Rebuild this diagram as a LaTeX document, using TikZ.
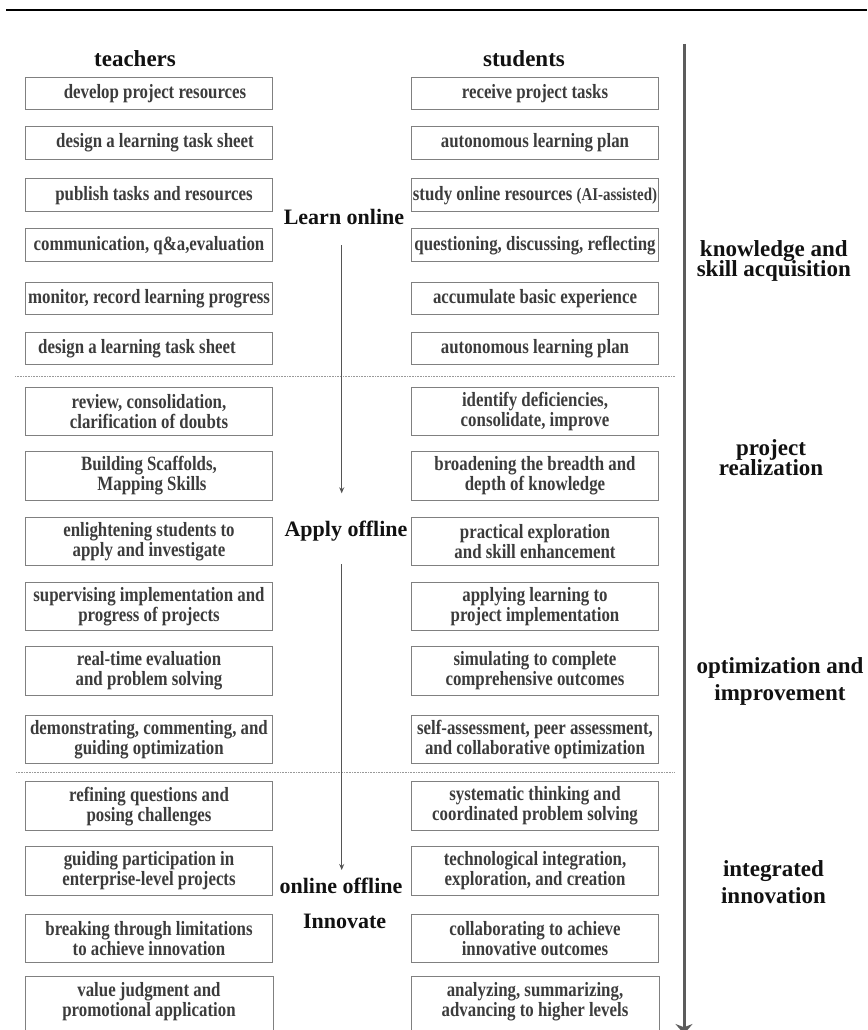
\documentclass[tikz,border=0pt]{standalone}
\usepackage{fontspec}
\setmainfont{Liberation Serif}
\newfontfamily\boxfam{Liberation Serif}[FakeStretch=0.83]
\usetikzlibrary{arrows.meta}
\definecolor{boxline}{HTML}{808080}
\definecolor{boxtext}{HTML}{3C3C3C}
\definecolor{headtext}{HTML}{111111}
\definecolor{axiscol}{HTML}{5C5C5C}
\definecolor{midcol}{HTML}{555555}
\definecolor{sepcol}{HTML}{999999}
\tikzset{
  tbox/.style={draw=boxline, line width=1pt, minimum width=247pt, inner sep=0pt,
    align=center, text=boxtext, font=\boxfam\bfseries\fontsize{20.3}{20}\selectfont},
  one/.style={tbox, minimum height=32.5pt},
  two/.style={tbox, minimum height=48.4pt},
  boxframe/.style={draw=boxline, line width=1pt},
  head/.style={font=\bfseries\fontsize{23}{23}\selectfont, text=headtext, inner sep=0pt, anchor=base},
  mid/.style={font=\bfseries\fontsize{22}{22}\selectfont, text=headtext, inner sep=0pt, anchor=base},
  sidea/.style={font=\bfseries\fontsize{23}{20.3}\selectfont, text=headtext, inner sep=0pt, align=center, anchor=base},
  sideb/.style={font=\bfseries\fontsize{23}{27}\selectfont, text=headtext, inner sep=0pt, align=center, anchor=base},
  midarrow/.style={draw=midcol, line width=0.9pt, -{Stealth[length=6pt,width=5pt]}},
  axis/.style={draw=axiscol, line width=3pt, -{Stealth[length=10pt,width=17pt]}},
  sepline/.style={draw=sepcol, line width=0.8pt, dash pattern=on 0.8pt off 0.8pt},
  topline/.style={draw=black, line width=2.5pt}
}
\begin{document}
\lineskiplimit=-100pt
\begin{tikzpicture}[x=1pt,y=-1pt]
\useasboundingbox (0,0) rectangle (867,1030);
% top rule
\coordinate (tl1) at (6,10);
\coordinate (tl2) at (867,10);
\draw[topline] (tl1) -- (tl2);
% headers
\node[head] (hT) at (135,66.7) {teachers};
\node[head] (hS) at (524,66.7) {students};
% teacher column
\node[one] (t1) at (149,93.65) {\hspace*{12pt}develop project resources};
\node[one] (t2) at (149,143.15) {\hspace*{12pt}design a learning task sheet};
\node[one] (t3) at (149,195.15) {\hspace*{10pt}publish tasks and resources};
\node[one] (t4) at (149,245.15) {communication, q\&a,evaluation};
\node[one] (t5) at (149,298.4) {monitor, record learning progress};
\node[one] (t6) at (149,348.5) {design a learning task sheet\hspace*{24pt}};
\node[two] (t7) at (149,411.5) {review, consolidation,\\clarification of doubts};
\node[two] (t8) at (149,475.85) {Building Scaffolds,\\\hspace*{6pt}Mapping Skills};
\node[two] (t9) at (149,541.5) {enlightening students to\\apply and investigate};
\node[two] (t10) at (149,606.5) {supervising implementation and\\progress of projects};
\node[two] (t11) at (149,670.85) {real-time evaluation\\and problem solving};
\node[two] (t12) at (149,739.5) {demonstrating, commenting, and\\guiding optimization};
\node[two] (t13) at (149,806.15) {refining questions and\\posing challenges};
\node[two] (t14) at (149,870.85) {guiding participation in\\enterprise-level projects};
\node[two] (t15) at (149,938.3) {breaking through limitations\\to achieve innovation};
\node[two, draw=none] (t16) at (149,1001.5) {value judgment and\\promotional application};
\draw[boxframe] ([yshift=-10pt]t16.south west) rectangle (t16.north east);
% student column
\node[one] (s1) at (535,93.65) {receive project tasks};
\node[one] (s2) at (535,143.15) {autonomous learning plan};
\node[one] (s3) at (535,195.15) {study online resources {\fontsize{18}{18}\selectfont(AI-assisted)}};
\node[one] (s4) at (535,245.15) {questioning, discussing, reflecting};
\node[one] (s5) at (535,298.4) {accumulate basic experience};
\node[one] (s6) at (535,348.5) {autonomous learning plan};
\node[two] (s7) at (535,411.5) {identify deficiencies,\\consolidate, improve};
\node[two] (s8) at (535,475.85) {broadening the breadth and\\depth of knowledge};
\node[two] (s9) at (535,541.5) {practical exploration\\and skill enhancement};
\node[two] (s10) at (535,606.5) {applying learning to\\project implementation};
\node[two] (s11) at (535,670.85) {simulating to complete\\comprehensive outcomes};
\node[two] (s12) at (535,739.5) {self-assessment, peer assessment,\\and collaborative optimization};
\node[two] (s13) at (535,806.15) {systematic thinking and\\coordinated problem solving};
\node[two] (s14) at (535,870.85) {technological integration,\\exploration, and creation};
\node[two] (s15) at (535,938.3) {collaborating to achieve\\innovative outcomes};
\node[two, draw=none] (s16) at (535,1001.5) {analyzing, summarizing,\\advancing to higher levels};
\draw[boxframe] ([yshift=-10pt]s16.south west) rectangle (s16.north east);
% dotted separators
\coordinate (d1a) at (15,376);
\coordinate (d1b) at (675,376);
\coordinate (d2a) at (16,772.3);
\coordinate (d2b) at (675,772.3);
\draw[sepline] (d1a) -- (d1b);
\draw[sepline] (d2a) -- (d2b);
% middle labels
\node[mid] (mLearn) at (344,224) {Learn online};
\node[mid] (mApply) at (346,536) {Apply offline};
\node[mid] (mOnOff) at (341,893.3) {online offline};
\node[mid] (mInnov) at (344.7,928.7) {Innovate};
% middle arrows
\coordinate (a1s) at (341.7,245);
\coordinate (a1e) at (341.7,493.3);
\coordinate (a2s) at (341.7,564.3);
\coordinate (a2e) at (341.7,870);
\draw[midarrow] (a1s) -- (a1e);
\draw[midarrow] (a2s) -- (a2e);
% stage axis
\coordinate (axs) at (684,44);
\coordinate (axe) at (684,1034);
\draw[axis] (axs) -- (axe);
% stage labels (base anchor = last line's baseline)
\node[sidea] (st1) at (773.8,276.5) {knowledge and\\skill acquisition};
\node[sidea] (st2) at (771,475.5) {project\\realization};
\node[sideb] (st3) at (780,700.3) {optimization and\\improvement};
\node[sideb] (st4) at (773.5,903.3) {integrated\\innovation};
\end{tikzpicture}
\end{document}
